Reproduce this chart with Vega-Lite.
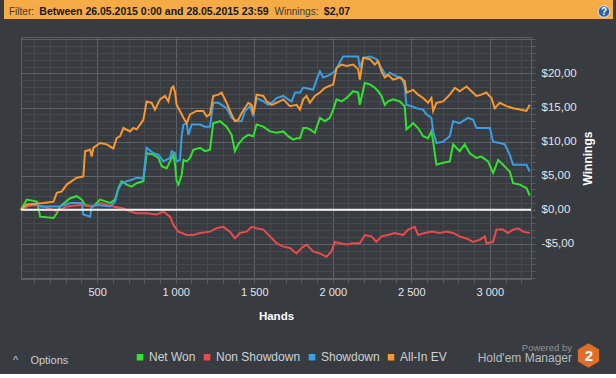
{
  "$schema": "https://vega.github.io/schema/vega-lite/v6.json",
  "background": "#383b3f",
  "padding": {"left": 4, "top": 0, "right": 3, "bottom": 5},
  "spacing": 16,
  "config": {
    "view": {"stroke": null},
    "font": "Liberation Sans",
    "concat": {"spacing": 0}
  },
  "vconcat": [
    {
      "spacing": 0,
      "bounds": "flush",
      "hconcat": [
        {
          "width": 35, "height": 19,
          "view": {"fill": "#f5ac46", "stroke": null},
          "data": {"values": [{"t": "Filter:"}]},
          "mark": {"type": "text", "font": "Liberation Sans", "fontSize": 10, "color": "#3a3a3a", "baseline": "middle", "dy": 2},
          "encoding": {"text": {"field": "t"}}
        },
        {
          "width": 230, "height": 19,
          "view": {"fill": "#f5ac46", "stroke": null},
          "data": {"values": [{"t": "Between 26.05.2015 0:00 and 28.05.2015 23:59"}]},
          "mark": {"type": "text", "font": "Liberation Sans", "fontSize": 10.5, "fontWeight": "bold", "color": "#161616", "baseline": "middle", "dy": 2},
          "encoding": {"text": {"field": "t"}}
        },
        {
          "width": 55, "height": 19,
          "view": {"fill": "#f5ac46", "stroke": null},
          "data": {"values": [{"t": "Winnings:"}]},
          "mark": {"type": "text", "font": "Liberation Sans", "fontSize": 10, "color": "#3a3a3a", "baseline": "middle", "dy": 2},
          "encoding": {"text": {"field": "t"}}
        },
        {
          "width": 26, "height": 19,
          "view": {"fill": "#f5ac46", "stroke": null},
          "data": {"values": [{"t": "$2,07"}]},
          "mark": {"type": "text", "font": "Liberation Sans", "fontSize": 10.5, "fontWeight": "bold", "color": "#161616", "baseline": "middle", "dy": 2},
          "encoding": {"text": {"field": "t"}}
        },
        {
          "width": 245, "height": 19,
          "view": {"fill": "#f5ac46", "stroke": null},
          "data": {"values": [{"t": ""}]},
          "mark": {"type": "text"},
          "encoding": {"text": {"field": "t"}}
        },
        {
          "width": 18, "height": 19,
          "view": {"fill": "#f5ac46", "stroke": null},
          "data": {"values": [{"t": "?"}]},
          "layer": [
            {"mark": {"type": "point", "shape": "circle", "filled": true, "size": 135, "fill": "#2465b0", "stroke": "#dfe8f2", "strokeWidth": 1, "opacity": 1, "yOffset": 2}, "encoding": {}},
            {"mark": {"type": "text", "font": "Liberation Sans", "fontSize": 10, "fontWeight": "bold", "color": "#ffffff", "baseline": "middle", "dy": 2}, "encoding": {"text": {"field": "t"}}}
          ]
        }
      ]
    },
    {
      "spacing": 0,
      "bounds": "flush",
      "hconcat": [
        {
          "width": 17, "height": 242,
          "view": {"stroke": null},
          "data": {"values": [{"t": ""}]},
          "mark": {"type": "text"},
          "encoding": {"text": {"field": "t"}},
          "title": {"text": "^\u00a0\u00a0\u00a0\u00a0Options", "orient": "bottom", "anchor": "start", "frame": "group", "offset": 76, "dx": 9, "font": "Liberation Sans", "fontSize": 11, "fontWeight": "normal", "color": "#c9ced3"}
        },
        {
          "width": 510, "height": 242,
          "view": {"stroke": "#5c5f63"},
          "title": {"text": "Powered by", "subtitle": "Hold'em Manager", "orient": "bottom", "anchor": "end", "frame": "group", "offset": 21, "dx": 41, "font": "Liberation Sans", "fontSize": 9.5, "fontWeight": "normal", "color": "#8e9398", "subtitleFont": "Liberation Sans", "subtitleFontSize": 12, "subtitleColor": "#b6bbc0", "subtitlePadding": 1},
          "resolve": {"axis": {"y": "independent"}},
          "layer": [
            {
              "data": {"values": [
                {"hands":14,"series":"Net Won","winnings":0},{"hands":52,"series":"Net Won","winnings":1.5},{"hands":116,"series":"Net Won","winnings":1.2},{"hands":137,"series":"Net Won","winnings":-1.0},{"hands":222,"series":"Net Won","winnings":-1.2},{"hands":243,"series":"Net Won","winnings":-0.5},{"hands":264,"series":"Net Won","winnings":0.5},{"hands":328,"series":"Net Won","winnings":1.7},{"hands":370,"series":"Net Won","winnings":2.0},{"hands":402,"series":"Net Won","winnings":1.5},{"hands":423,"series":"Net Won","winnings":0.7},{"hands":476,"series":"Net Won","winnings":0.5},{"hands":497,"series":"Net Won","winnings":1.0},{"hands":518,"series":"Net Won","winnings":1.5},{"hands":582,"series":"Net Won","winnings":1.0},{"hands":614,"series":"Net Won","winnings":1.5},{"hands":635,"series":"Net Won","winnings":3.2},{"hands":656,"series":"Net Won","winnings":4.2},{"hands":688,"series":"Net Won","winnings":3.7},{"hands":720,"series":"Net Won","winnings":3.4},{"hands":752,"series":"Net Won","winnings":3.9},{"hands":794,"series":"Net Won","winnings":4.2},{"hands":815,"series":"Net Won","winnings":8.3},{"hands":858,"series":"Net Won","winnings":8.1},{"hands":890,"series":"Net Won","winnings":7.6},{"hands":911,"series":"Net Won","winnings":6.4},{"hands":943,"series":"Net Won","winnings":6.1},{"hands":964,"series":"Net Won","winnings":7.1},{"hands":985,"series":"Net Won","winnings":8.1},{"hands":996,"series":"Net Won","winnings":6.6},{"hands":1006,"series":"Net Won","winnings":4.2},{"hands":1017,"series":"Net Won","winnings":3.7},{"hands":1038,"series":"Net Won","winnings":5.1},{"hands":1049,"series":"Net Won","winnings":7.3},{"hands":1070,"series":"Net Won","winnings":7.1},{"hands":1091,"series":"Net Won","winnings":7.6},{"hands":1112,"series":"Net Won","winnings":8.8},{"hands":1155,"series":"Net Won","winnings":9.1},{"hands":1186,"series":"Net Won","winnings":8.6},{"hands":1218,"series":"Net Won","winnings":8.8},{"hands":1239,"series":"Net Won","winnings":12.7},{"hands":1282,"series":"Net Won","winnings":13.0},{"hands":1324,"series":"Net Won","winnings":12.2},{"hands":1356,"series":"Net Won","winnings":11.0},{"hands":1377,"series":"Net Won","winnings":8.6},{"hands":1398,"series":"Net Won","winnings":9.6},{"hands":1430,"series":"Net Won","winnings":10.5},{"hands":1462,"series":"Net Won","winnings":11.0},{"hands":1494,"series":"Net Won","winnings":10.8},{"hands":1515,"series":"Net Won","winnings":12.5},{"hands":1558,"series":"Net Won","winnings":12.2},{"hands":1600,"series":"Net Won","winnings":11.5},{"hands":1642,"series":"Net Won","winnings":11.3},{"hands":1685,"series":"Net Won","winnings":11.5},{"hands":1716,"series":"Net Won","winnings":10.8},{"hands":1748,"series":"Net Won","winnings":10.3},{"hands":1770,"series":"Net Won","winnings":10.5},{"hands":1791,"series":"Net Won","winnings":10.5},{"hands":1812,"series":"Net Won","winnings":12.0},{"hands":1833,"series":"Net Won","winnings":12.0},{"hands":1854,"series":"Net Won","winnings":11.8},{"hands":1886,"series":"Net Won","winnings":11.3},{"hands":1918,"series":"Net Won","winnings":13.5},{"hands":1950,"series":"Net Won","winnings":13.0},{"hands":1981,"series":"Net Won","winnings":13.5},{"hands":2003,"series":"Net Won","winnings":14.7},{"hands":2024,"series":"Net Won","winnings":16.2},{"hands":2056,"series":"Net Won","winnings":15.9},{"hands":2088,"series":"Net Won","winnings":16.4},{"hands":2130,"series":"Net Won","winnings":17.4},{"hands":2162,"series":"Net Won","winnings":17.2},{"hands":2172,"series":"Net Won","winnings":15.4},{"hands":2204,"series":"Net Won","winnings":18.6},{"hands":2236,"series":"Net Won","winnings":18.4},{"hands":2268,"series":"Net Won","winnings":17.9},{"hands":2289,"series":"Net Won","winnings":17.4},{"hands":2310,"series":"Net Won","winnings":16.7},{"hands":2331,"series":"Net Won","winnings":15.4},{"hands":2352,"series":"Net Won","winnings":15.9},{"hands":2384,"series":"Net Won","winnings":16.2},{"hands":2427,"series":"Net Won","winnings":15.9},{"hands":2458,"series":"Net Won","winnings":15.2},{"hands":2469,"series":"Net Won","winnings":11.8},{"hands":2512,"series":"Net Won","winnings":12.7},{"hands":2543,"series":"Net Won","winnings":12.0},{"hands":2575,"series":"Net Won","winnings":10.8},{"hands":2607,"series":"Net Won","winnings":10.5},{"hands":2628,"series":"Net Won","winnings":11.5},{"hands":2639,"series":"Net Won","winnings":10.0},{"hands":2660,"series":"Net Won","winnings":6.6},{"hands":2703,"series":"Net Won","winnings":6.9},{"hands":2745,"series":"Net Won","winnings":7.1},{"hands":2766,"series":"Net Won","winnings":9.6},{"hands":2808,"series":"Net Won","winnings":8.6},{"hands":2840,"series":"Net Won","winnings":9.6},{"hands":2872,"series":"Net Won","winnings":8.3},{"hands":2915,"series":"Net Won","winnings":7.6},{"hands":2946,"series":"Net Won","winnings":7.8},{"hands":2989,"series":"Net Won","winnings":7.1},{"hands":3021,"series":"Net Won","winnings":5.4},{"hands":3053,"series":"Net Won","winnings":7.3},{"hands":3084,"series":"Net Won","winnings":6.6},{"hands":3127,"series":"Net Won","winnings":5.6},{"hands":3148,"series":"Net Won","winnings":3.9},{"hands":3191,"series":"Net Won","winnings":3.7},{"hands":3233,"series":"Net Won","winnings":3.2},{"hands":3254,"series":"Net Won","winnings":2.1},
                {"hands":14,"series":"Non Showdown","winnings":0},{"hands":52,"series":"Non Showdown","winnings":0.5},{"hands":94,"series":"Non Showdown","winnings":0.7},{"hands":158,"series":"Non Showdown","winnings":0.5},{"hands":243,"series":"Non Showdown","winnings":-0.25},{"hands":306,"series":"Non Showdown","winnings":0.5},{"hands":391,"series":"Non Showdown","winnings":0.7},{"hands":476,"series":"Non Showdown","winnings":0.5},{"hands":518,"series":"Non Showdown","winnings":1.0},{"hands":603,"series":"Non Showdown","winnings":0.5},{"hands":667,"series":"Non Showdown","winnings":0.2},{"hands":709,"series":"Non Showdown","winnings":-0.25},{"hands":752,"series":"Non Showdown","winnings":-0.5},{"hands":815,"series":"Non Showdown","winnings":-0.5},{"hands":879,"series":"Non Showdown","winnings":-0.7},{"hands":921,"series":"Non Showdown","winnings":-0.25},{"hands":964,"series":"Non Showdown","winnings":-1.0},{"hands":985,"series":"Non Showdown","winnings":-2.2},{"hands":1017,"series":"Non Showdown","winnings":-3.2},{"hands":1070,"series":"Non Showdown","winnings":-3.7},{"hands":1112,"series":"Non Showdown","winnings":-3.7},{"hands":1155,"series":"Non Showdown","winnings":-3.4},{"hands":1218,"series":"Non Showdown","winnings":-3.2},{"hands":1260,"series":"Non Showdown","winnings":-2.7},{"hands":1303,"series":"Non Showdown","winnings":-2.5},{"hands":1345,"series":"Non Showdown","winnings":-3.2},{"hands":1377,"series":"Non Showdown","winnings":-4.2},{"hands":1409,"series":"Non Showdown","winnings":-3.4},{"hands":1451,"series":"Non Showdown","winnings":-3.2},{"hands":1483,"series":"Non Showdown","winnings":-2.5},{"hands":1515,"series":"Non Showdown","winnings":-2.7},{"hands":1558,"series":"Non Showdown","winnings":-2.9},{"hands":1600,"series":"Non Showdown","winnings":-3.9},{"hands":1642,"series":"Non Showdown","winnings":-4.9},{"hands":1685,"series":"Non Showdown","winnings":-5.4},{"hands":1727,"series":"Non Showdown","winnings":-5.6},{"hands":1768,"series":"Non Showdown","winnings":-6.4},{"hands":1801,"series":"Non Showdown","winnings":-5.6},{"hands":1833,"series":"Non Showdown","winnings":-5.1},{"hands":1875,"series":"Non Showdown","winnings":-6.1},{"hands":1918,"series":"Non Showdown","winnings":-6.4},{"hands":1960,"series":"Non Showdown","winnings":-6.9},{"hands":1992,"series":"Non Showdown","winnings":-6.1},{"hands":2013,"series":"Non Showdown","winnings":-4.7},{"hands":2045,"series":"Non Showdown","winnings":-4.9},{"hands":2088,"series":"Non Showdown","winnings":-5.1},{"hands":2130,"series":"Non Showdown","winnings":-4.9},{"hands":2172,"series":"Non Showdown","winnings":-4.9},{"hands":2204,"series":"Non Showdown","winnings":-3.7},{"hands":2246,"series":"Non Showdown","winnings":-3.9},{"hands":2278,"series":"Non Showdown","winnings":-4.7},{"hands":2310,"series":"Non Showdown","winnings":-3.9},{"hands":2352,"series":"Non Showdown","winnings":-3.7},{"hands":2395,"series":"Non Showdown","winnings":-3.4},{"hands":2448,"series":"Non Showdown","winnings":-3.7},{"hands":2480,"series":"Non Showdown","winnings":-2.9},{"hands":2522,"series":"Non Showdown","winnings":-2.5},{"hands":2543,"series":"Non Showdown","winnings":-3.7},{"hands":2586,"series":"Non Showdown","winnings":-3.4},{"hands":2628,"series":"Non Showdown","winnings":-3.2},{"hands":2681,"series":"Non Showdown","winnings":-3.4},{"hands":2724,"series":"Non Showdown","winnings":-3.2},{"hands":2766,"series":"Non Showdown","winnings":-3.4},{"hands":2808,"series":"Non Showdown","winnings":-3.9},{"hands":2851,"series":"Non Showdown","winnings":-4.2},{"hands":2893,"series":"Non Showdown","winnings":-4.7},{"hands":2936,"series":"Non Showdown","winnings":-4.4},{"hands":2968,"series":"Non Showdown","winnings":-3.9},{"hands":2978,"series":"Non Showdown","winnings":-4.9},{"hands":3021,"series":"Non Showdown","winnings":-4.7},{"hands":3042,"series":"Non Showdown","winnings":-2.9},{"hands":3084,"series":"Non Showdown","winnings":-2.9},{"hands":3116,"series":"Non Showdown","winnings":-3.4},{"hands":3148,"series":"Non Showdown","winnings":-2.9},{"hands":3180,"series":"Non Showdown","winnings":-2.7},{"hands":3212,"series":"Non Showdown","winnings":-3.2},{"hands":3254,"series":"Non Showdown","winnings":-3.4},
                {"hands":14,"series":"Showdown","winnings":0},{"hands":52,"series":"Showdown","winnings":0.7},{"hands":116,"series":"Showdown","winnings":0.7},{"hands":137,"series":"Showdown","winnings":0.5},{"hands":222,"series":"Showdown","winnings":0.5},{"hands":264,"series":"Showdown","winnings":0.5},{"hands":328,"series":"Showdown","winnings":1.0},{"hands":370,"series":"Showdown","winnings":1.0},{"hands":402,"series":"Showdown","winnings":1.0},{"hands":412,"series":"Showdown","winnings":-0.7},{"hands":455,"series":"Showdown","winnings":-1.0},{"hands":465,"series":"Showdown","winnings":0.5},{"hands":497,"series":"Showdown","winnings":0.7},{"hands":540,"series":"Showdown","winnings":0.6},{"hands":582,"series":"Showdown","winnings":0.5},{"hands":614,"series":"Showdown","winnings":1.2},{"hands":635,"series":"Showdown","winnings":3.0},{"hands":656,"series":"Showdown","winnings":3.9},{"hands":688,"series":"Showdown","winnings":4.2},{"hands":720,"series":"Showdown","winnings":4.4},{"hands":752,"series":"Showdown","winnings":4.7},{"hands":794,"series":"Showdown","winnings":4.6},{"hands":815,"series":"Showdown","winnings":9.1},{"hands":858,"series":"Showdown","winnings":8.3},{"hands":890,"series":"Showdown","winnings":8.1},{"hands":921,"series":"Showdown","winnings":7.1},{"hands":964,"series":"Showdown","winnings":7.6},{"hands":974,"series":"Showdown","winnings":8.6},{"hands":996,"series":"Showdown","winnings":8.3},{"hands":1006,"series":"Showdown","winnings":7.1},{"hands":1027,"series":"Showdown","winnings":7.3},{"hands":1038,"series":"Showdown","winnings":10.8},{"hands":1049,"series":"Showdown","winnings":12.5},{"hands":1070,"series":"Showdown","winnings":12.7},{"hands":1080,"series":"Showdown","winnings":11.0},{"hands":1102,"series":"Showdown","winnings":12.5},{"hands":1155,"series":"Showdown","winnings":12.5},{"hands":1186,"series":"Showdown","winnings":12.2},{"hands":1218,"series":"Showdown","winnings":12.2},{"hands":1239,"series":"Showdown","winnings":15.7},{"hands":1271,"series":"Showdown","winnings":15.7},{"hands":1292,"series":"Showdown","winnings":15.4},{"hands":1324,"series":"Showdown","winnings":14.9},{"hands":1356,"series":"Showdown","winnings":13.5},{"hands":1388,"series":"Showdown","winnings":13.0},{"hands":1420,"series":"Showdown","winnings":13.0},{"hands":1441,"series":"Showdown","winnings":14.5},{"hands":1473,"series":"Showdown","winnings":15.2},{"hands":1494,"series":"Showdown","winnings":13.7},{"hands":1515,"series":"Showdown","winnings":16.4},{"hands":1558,"series":"Showdown","winnings":15.9},{"hands":1589,"series":"Showdown","winnings":15.4},{"hands":1621,"series":"Showdown","winnings":15.9},{"hands":1642,"series":"Showdown","winnings":16.4},{"hands":1685,"series":"Showdown","winnings":16.7},{"hands":1716,"series":"Showdown","winnings":16.2},{"hands":1738,"series":"Showdown","winnings":15.9},{"hands":1760,"series":"Showdown","winnings":17.2},{"hands":1791,"series":"Showdown","winnings":17.2},{"hands":1812,"series":"Showdown","winnings":17.9},{"hands":1822,"series":"Showdown","winnings":17.9},{"hands":1875,"series":"Showdown","winnings":17.6},{"hands":1897,"series":"Showdown","winnings":19.1},{"hands":1918,"series":"Showdown","winnings":20.3},{"hands":1939,"series":"Showdown","winnings":19.4},{"hands":1981,"series":"Showdown","winnings":19.8},{"hands":2013,"series":"Showdown","winnings":20.3},{"hands":2066,"series":"Showdown","winnings":22.5},{"hands":2162,"series":"Showdown","winnings":22.5},{"hands":2172,"series":"Showdown","winnings":20.8},{"hands":2194,"series":"Showdown","winnings":22.3},{"hands":2236,"series":"Showdown","winnings":22.5},{"hands":2278,"series":"Showdown","winnings":22.1},{"hands":2310,"series":"Showdown","winnings":20.8},{"hands":2342,"series":"Showdown","winnings":19.6},{"hands":2363,"series":"Showdown","winnings":20.1},{"hands":2405,"series":"Showdown","winnings":19.6},{"hands":2437,"series":"Showdown","winnings":19.4},{"hands":2458,"series":"Showdown","winnings":18.1},{"hands":2469,"series":"Showdown","winnings":15.4},{"hands":2501,"series":"Showdown","winnings":15.2},{"hands":2533,"series":"Showdown","winnings":14.9},{"hands":2575,"series":"Showdown","winnings":14.7},{"hands":2596,"series":"Showdown","winnings":14.0},{"hands":2628,"series":"Showdown","winnings":13.5},{"hands":2639,"series":"Showdown","winnings":11.5},{"hands":2660,"series":"Showdown","winnings":9.8},{"hands":2703,"series":"Showdown","winnings":10.0},{"hands":2745,"series":"Showdown","winnings":10.8},{"hands":2766,"series":"Showdown","winnings":13.0},{"hands":2808,"series":"Showdown","winnings":12.7},{"hands":2840,"series":"Showdown","winnings":13.2},{"hands":2861,"series":"Showdown","winnings":13.5},{"hands":2893,"series":"Showdown","winnings":13.2},{"hands":2915,"series":"Showdown","winnings":12.0},{"hands":3000,"series":"Showdown","winnings":12.0},{"hands":3021,"series":"Showdown","winnings":10.0},{"hands":3063,"series":"Showdown","winnings":9.8},{"hands":3095,"series":"Showdown","winnings":9.6},{"hands":3127,"series":"Showdown","winnings":8.1},{"hands":3148,"series":"Showdown","winnings":6.6},{"hands":3233,"series":"Showdown","winnings":6.6},{"hands":3254,"series":"Showdown","winnings":5.6},
                {"hands":14,"series":"All-In EV","winnings":0},{"hands":52,"series":"All-In EV","winnings":0.8},{"hands":158,"series":"All-In EV","winnings":1.0},{"hands":222,"series":"All-In EV","winnings":1.2},{"hands":243,"series":"All-In EV","winnings":2.5},{"hands":275,"series":"All-In EV","winnings":2.7},{"hands":306,"series":"All-In EV","winnings":3.7},{"hands":338,"series":"All-In EV","winnings":4.2},{"hands":370,"series":"All-In EV","winnings":4.7},{"hands":412,"series":"All-In EV","winnings":4.9},{"hands":423,"series":"All-In EV","winnings":8.6},{"hands":455,"series":"All-In EV","winnings":8.8},{"hands":465,"series":"All-In EV","winnings":7.8},{"hands":476,"series":"All-In EV","winnings":9.1},{"hands":518,"series":"All-In EV","winnings":9.8},{"hands":561,"series":"All-In EV","winnings":9.6},{"hands":603,"series":"All-In EV","winnings":9.0},{"hands":624,"series":"All-In EV","winnings":10.5},{"hands":646,"series":"All-In EV","winnings":10.8},{"hands":667,"series":"All-In EV","winnings":12.0},{"hands":709,"series":"All-In EV","winnings":11.5},{"hands":730,"series":"All-In EV","winnings":12.0},{"hands":752,"series":"All-In EV","winnings":11.8},{"hands":794,"series":"All-In EV","winnings":13.2},{"hands":815,"series":"All-In EV","winnings":15.9},{"hands":847,"series":"All-In EV","winnings":15.7},{"hands":868,"series":"All-In EV","winnings":14.7},{"hands":900,"series":"All-In EV","winnings":16.2},{"hands":932,"series":"All-In EV","winnings":16.7},{"hands":953,"series":"All-In EV","winnings":15.9},{"hands":974,"series":"All-In EV","winnings":17.9},{"hands":985,"series":"All-In EV","winnings":18.1},{"hands":996,"series":"All-In EV","winnings":17.2},{"hands":1006,"series":"All-In EV","winnings":15.4},{"hands":1027,"series":"All-In EV","winnings":14.5},{"hands":1049,"series":"All-In EV","winnings":13.5},{"hands":1070,"series":"All-In EV","winnings":12.7},{"hands":1091,"series":"All-In EV","winnings":14.0},{"hands":1133,"series":"All-In EV","winnings":14.5},{"hands":1176,"series":"All-In EV","winnings":14.5},{"hands":1197,"series":"All-In EV","winnings":13.7},{"hands":1218,"series":"All-In EV","winnings":14.0},{"hands":1239,"series":"All-In EV","winnings":16.7},{"hands":1271,"series":"All-In EV","winnings":16.9},{"hands":1292,"series":"All-In EV","winnings":17.2},{"hands":1324,"series":"All-In EV","winnings":15.7},{"hands":1356,"series":"All-In EV","winnings":14.0},{"hands":1377,"series":"All-In EV","winnings":13.0},{"hands":1398,"series":"All-In EV","winnings":13.2},{"hands":1420,"series":"All-In EV","winnings":14.2},{"hands":1462,"series":"All-In EV","winnings":15.7},{"hands":1483,"series":"All-In EV","winnings":15.4},{"hands":1494,"series":"All-In EV","winnings":14.0},{"hands":1515,"series":"All-In EV","winnings":16.9},{"hands":1558,"series":"All-In EV","winnings":16.7},{"hands":1579,"series":"All-In EV","winnings":15.9},{"hands":1611,"series":"All-In EV","winnings":15.4},{"hands":1642,"series":"All-In EV","winnings":15.7},{"hands":1685,"series":"All-In EV","winnings":16.2},{"hands":1727,"series":"All-In EV","winnings":15.2},{"hands":1770,"series":"All-In EV","winnings":15.4},{"hands":1791,"series":"All-In EV","winnings":14.7},{"hands":1812,"series":"All-In EV","winnings":16.2},{"hands":1833,"series":"All-In EV","winnings":16.7},{"hands":1854,"series":"All-In EV","winnings":15.7},{"hands":1886,"series":"All-In EV","winnings":16.7},{"hands":1918,"series":"All-In EV","winnings":17.2},{"hands":1950,"series":"All-In EV","winnings":17.9},{"hands":2003,"series":"All-In EV","winnings":18.4},{"hands":2024,"series":"All-In EV","winnings":20.8},{"hands":2056,"series":"All-In EV","winnings":21.3},{"hands":2088,"series":"All-In EV","winnings":21.1},{"hands":2130,"series":"All-In EV","winnings":21.3},{"hands":2162,"series":"All-In EV","winnings":20.6},{"hands":2172,"series":"All-In EV","winnings":19.1},{"hands":2194,"series":"All-In EV","winnings":22.3},{"hands":2236,"series":"All-In EV","winnings":22.1},{"hands":2268,"series":"All-In EV","winnings":21.3},{"hands":2289,"series":"All-In EV","winnings":21.8},{"hands":2310,"series":"All-In EV","winnings":20.3},{"hands":2331,"series":"All-In EV","winnings":19.4},{"hands":2352,"series":"All-In EV","winnings":19.8},{"hands":2384,"series":"All-In EV","winnings":19.1},{"hands":2427,"series":"All-In EV","winnings":19.4},{"hands":2458,"series":"All-In EV","winnings":18.9},{"hands":2469,"series":"All-In EV","winnings":17.2},{"hands":2512,"series":"All-In EV","winnings":17.6},{"hands":2543,"series":"All-In EV","winnings":16.9},{"hands":2575,"series":"All-In EV","winnings":16.4},{"hands":2607,"series":"All-In EV","winnings":15.7},{"hands":2628,"series":"All-In EV","winnings":16.4},{"hands":2639,"series":"All-In EV","winnings":14.5},{"hands":2660,"series":"All-In EV","winnings":15.7},{"hands":2703,"series":"All-In EV","winnings":15.9},{"hands":2745,"series":"All-In EV","winnings":16.9},{"hands":2777,"series":"All-In EV","winnings":17.9},{"hands":2808,"series":"All-In EV","winnings":17.4},{"hands":2851,"series":"All-In EV","winnings":18.1},{"hands":2883,"series":"All-In EV","winnings":17.4},{"hands":2915,"series":"All-In EV","winnings":16.7},{"hands":2946,"series":"All-In EV","winnings":16.9},{"hands":2978,"series":"All-In EV","winnings":17.2},{"hands":3010,"series":"All-In EV","winnings":16.4},{"hands":3031,"series":"All-In EV","winnings":14.9},{"hands":3063,"series":"All-In EV","winnings":15.7},{"hands":3106,"series":"All-In EV","winnings":15.2},{"hands":3148,"series":"All-In EV","winnings":14.9},{"hands":3191,"series":"All-In EV","winnings":14.7},{"hands":3233,"series":"All-In EV","winnings":14.5},{"hands":3254,"series":"All-In EV","winnings":15.4}
              ]},
              "mark": {"type": "line", "strokeWidth": 2},
              "encoding": {
                "x": {
                  "field": "hands", "type": "quantitative",
                  "scale": {"domain": [15, 3262], "nice": false, "zero": false},
                  "axis": {
                    "values": [100,200,300,400,500,600,700,800,900,1000,1100,1200,1300,1400,1500,1600,1700,1800,1900,2000,2100,2200,2300,2400,2500,2600,2700,2800,2900,3000,3100,3200],
                    "labelExpr": "datum.value % 500 === 0 ? replace(format(datum.value, ','), ',', ' ') : ''",
                    "labelOverlap": false, "labelFlush": false,
                    "domain": false, "tickSize": 4, "tickColor": "#5a5d61",
                    "grid": true,
                    "gridColor": {"condition": {"test": "datum.value % 500 === 0", "value": "#5f6266"}, "value": "#46494d"},
                    "labelFont": "Liberation Sans", "labelFontSize": 11, "labelColor": "#e2e5e8", "labelPadding": 3,
                    "title": "Hands", "titleFont": "Liberation Sans", "titleFontSize": 11.5, "titleFontWeight": "bold", "titleColor": "#ffffff", "titlePadding": 13
                  }
                },
                "y": {
                  "field": "winnings", "type": "quantitative",
                  "scale": {"domain": [-10.15, 25.35], "nice": false, "zero": false},
                  "axis": {
                    "orient": "right",
                    "values": [-10,-9,-8,-7,-6,-5,-4,-3,-2,-1,0,1,2,3,4,5,6,7,8,9,10,11,12,13,14,15,16,17,18,19,20,21,22,23,24,25],
                    "labels": false, "title": null,
                    "domain": false, "tickSize": 4, "tickColor": "#5a5d61",
                    "grid": true,
                    "gridColor": {"condition": {"test": "datum.value % 5 === 0", "value": "#5f6266"}, "value": "#46494d"}
                  }
                },
                "color": {
                  "field": "series", "type": "nominal",
                  "scale": {"domain": ["Net Won", "Non Showdown", "Showdown", "All-In EV"], "range": ["#33e133", "#e94a4d", "#3b9de2", "#f6982f"]},
                  "legend": {
                    "orient": "none", "legendX": 130, "legendY": 351, "direction": "horizontal", "title": null,
                    "symbolType": "square", "symbolSize": 1, "symbolStrokeWidth": 5.5,
                    "labelFont": "Liberation Sans", "labelFontSize": 12, "labelColor": "#cdd2d7",
                    "labelOffset": 3, "columnPadding": -1
                  }
                }
              }
            },
            {
              "data": {"values": [{"winnings": 0}]},
              "mark": {"type": "rule", "color": "#f2f2f2", "strokeWidth": 2},
              "encoding": {
                "y": {
                  "field": "winnings", "type": "quantitative",
                  "axis": {
                    "orient": "right",
                    "values": [-5, 0, 5, 10, 15, 20],
                    "labelExpr": "(datum.value < 0 ? \"-\" : \"\") + \"$\" + replace(format(abs(datum.value), \".2f\"), \".\", \",\")",
                    "labelOverlap": false, "labelFlush": false,
                    "domain": false, "ticks": false, "grid": false,
                    "labelFont": "Liberation Sans", "labelFontSize": 11.5, "labelColor": "#e2e5e8", "labelPadding": 10, "labelAlign": "left",
                    "title": "Winnings", "titleAngle": 270, "titleFont": "Liberation Sans", "titleFontSize": 12, "titleFontWeight": "bold", "titleColor": "#ffffff", "titlePadding": 18
                  }
                }
              }
            },
            {
              "data": {"values": [{"logo": "2"}]},
              "mark": {"type": "point", "filled": true, "color": "#e06d2a", "opacity": 0},
              "encoding": {
                "shape": {
                  "field": "logo", "type": "nominal",
                  "scale": {"range": ["M0,-1L0.866,-0.5L0.866,0.5L0,1L-0.866,0.5L-0.866,-0.5Z"]},
                  "legend": {
                    "orient": "none", "legendX": 572, "legendY": 343, "title": null,
                    "symbolSize": 600, "symbolStrokeWidth": 0, "symbolFillColor": "#e06d2a", "symbolOpacity": 1,
                    "labelFont": "Liberation Sans", "labelFontSize": 15, "labelFontWeight": "bold", "labelColor": "#ffffff",
                    "labelAlign": "center", "labelOffset": -12
                  }
                }
              }
            }
          ]
        }
      ]
    }
  ]
}
